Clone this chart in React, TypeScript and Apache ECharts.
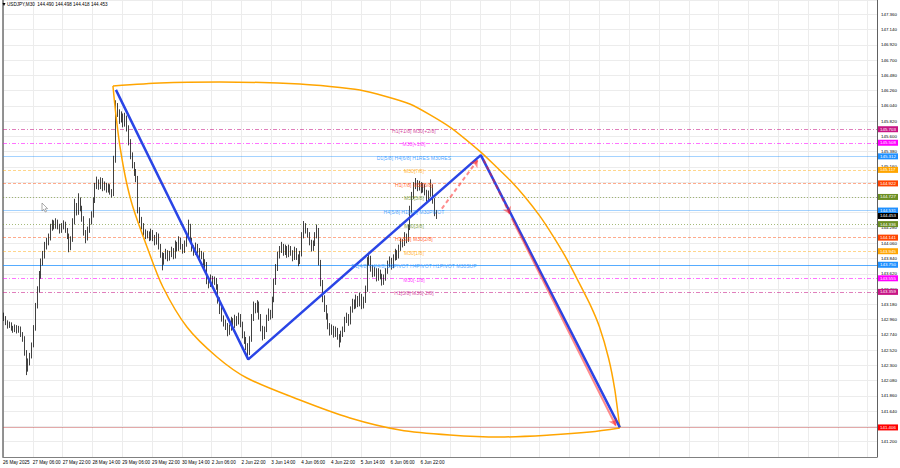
import React, { useEffect, useRef } from "react";
import * as echarts from "echarts";

const BASE = 141.055;
const TICK_STEP = 0.22;
const PRICE_MIN = 140.98;
const PRICE_MAX = 147.565;
const SLOT_MAX = 469;
const TIME_STEP = 16;
const FONT = '"Liberation Sans", Arial, sans-serif';

const titleText = "USDJPY,M30  144.490 144.498 144.418 144.453";

const timeLabels = [
  "26 May 2025", "27 May 06:00", "27 May 22:00", "28 May 14:00", "29 May 06:00",
  "29 May 22:00", "30 May 14:00", "2 Jun 06:00", "2 Jun 22:00", "3 Jun 14:00",
  "4 Jun 06:00", "4 Jun 22:00", "5 Jun 14:00", "6 Jun 06:00", "6 Jun 22:00",
];

const firstOpen = 143.02;
const closes = [
  142.98, 142.92, 142.87, 142.89, 142.84, 142.81, 142.85, 142.80, 142.83, 142.75,
  142.70, 142.49, 142.26, 142.35, 142.43, 142.59, 142.84, 143.16, 143.39, 143.60,
  143.79, 143.89, 144.02, 144.08, 144.14, 144.28, 144.34, 144.31, 144.37, 144.31,
  144.25, 144.30, 144.34, 144.25, 144.17, 144.00, 144.11, 144.37, 144.61, 144.51,
  144.68, 144.57, 144.42, 144.22, 144.14, 144.25, 144.37, 144.47, 144.68, 144.88,
  144.94, 144.88, 144.97, 144.86, 144.90, 144.83, 144.88, 144.80, 144.77, 145.26,
  146.01, 145.95, 145.84, 145.89, 145.78, 145.87, 145.72, 145.52, 145.33, 145.19,
  145.09, 145.00, 144.54, 144.40, 144.31, 144.22, 144.17, 144.19, 144.14, 144.22,
  144.14, 144.08, 144.17, 144.02, 143.90, 143.79, 143.87, 143.93, 143.85, 143.90,
  143.96, 143.87, 144.05, 143.99, 144.11, 144.02, 143.96, 144.05, 144.17, 144.31,
  144.11, 143.99, 143.93, 144.02, 143.96, 143.87, 143.90, 143.79, 143.76, 143.53,
  143.47, 143.56, 143.50, 143.53, 143.44, 143.24, 143.10, 142.98, 142.92, 142.87,
  142.78, 142.84, 142.95, 142.87, 142.98, 142.92, 143.01, 142.90, 142.75, 142.67,
  142.58, 142.49, 142.67, 142.98, 143.16, 143.10, 143.19, 143.01, 142.84, 142.72,
  142.81, 142.98, 143.07, 143.01, 143.24, 143.50, 143.70, 143.88, 143.96, 144.02,
  143.93, 143.99, 143.90, 143.99, 143.93, 143.85, 143.96, 143.87, 143.79, 143.90,
  144.17, 144.31, 144.25, 144.19, 144.08, 143.99, 144.05, 144.17, 144.25, 143.79,
  143.50, 143.27, 143.13, 143.01, 142.87, 142.78, 142.84, 142.75, 142.81, 142.72,
  142.67, 142.75, 142.81, 142.95, 143.01, 142.92, 143.10, 143.21, 143.16, 143.27,
  143.19, 143.30, 143.16, 143.24, 143.39, 143.79, 143.85, 143.70, 143.62, 143.67,
  143.56, 143.65, 143.59, 143.50, 143.56, 143.65, 143.76, 143.82, 143.73, 143.85,
  143.93, 143.87, 143.99, 144.08, 144.05, 144.17, 144.11, 144.28, 144.54, 144.74,
  144.88, 144.94, 144.86, 144.91, 144.83, 144.88, 144.80, 144.71, 144.77, 144.88,
  144.68, 144.51, 144.453,
];
const highs = [
  143.06, 143.01, 142.95, 142.93, 142.92, 142.87, 142.89, 142.88, 142.87, 142.86,
  142.78, 142.72, 142.52, 142.40, 142.48, 142.63, 142.88, 143.20, 143.44, 143.66,
  143.84, 143.95, 144.08, 144.14, 144.20, 144.34, 144.40, 144.39, 144.42, 144.40,
  144.34, 144.35, 144.39, 144.37, 144.28, 144.20, 144.16, 144.42, 144.70, 144.64,
  144.78, 144.72, 144.60, 144.45, 144.25, 144.30, 144.42, 144.52, 144.72, 144.93,
  145.02, 144.98, 145.01, 145.00, 144.95, 144.93, 144.92, 144.91, 144.84, 145.32,
  146.12, 146.08, 145.99, 145.96, 145.93, 145.94, 145.90, 145.76, 145.56, 145.37,
  145.23, 145.13, 145.03, 144.58, 144.44, 144.35, 144.26, 144.24, 144.23, 144.27,
  144.25, 144.18, 144.22, 144.20, 144.05, 143.93, 143.92, 143.98, 143.96, 143.95,
  144.01, 143.99, 144.10, 144.08, 144.16, 144.14, 144.05, 144.10, 144.22, 144.40,
  144.34, 144.14, 144.03, 144.07, 144.05, 143.99, 143.95, 143.93, 143.83, 143.79,
  143.57, 143.61, 143.59, 143.58, 143.56, 143.47, 143.28, 143.14, 143.02, 142.96,
  142.91, 142.89, 143.00, 142.98, 143.03, 143.01, 143.06, 143.04, 142.93, 142.79,
  142.71, 142.62, 142.72, 143.04, 143.22, 143.20, 143.24, 143.22, 143.04, 142.87,
  142.86, 143.03, 143.12, 143.10, 143.29, 143.55, 143.76, 143.94, 144.02, 144.08,
  144.05, 144.04, 144.02, 144.04, 144.02, 143.96, 144.01, 143.99, 143.90, 143.95,
  144.22, 144.38, 144.35, 144.28, 144.22, 144.11, 144.10, 144.22, 144.33, 144.28,
  143.82, 143.53, 143.31, 143.17, 143.05, 142.91, 142.89, 142.87, 142.86, 142.84,
  142.75, 142.80, 142.86, 143.00, 143.06, 143.04, 143.15, 143.26, 143.25, 143.32,
  143.30, 143.35, 143.33, 143.29, 143.45, 143.86, 143.91, 143.88, 143.74, 143.72,
  143.70, 143.70, 143.68, 143.62, 143.61, 143.70, 143.81, 143.87, 143.85, 143.90,
  143.98, 143.96, 144.04, 144.13, 144.12, 144.22, 144.20, 144.33, 144.60, 144.80,
  144.94, 145.00, 144.97, 144.96, 144.94, 144.93, 144.91, 144.83, 144.82, 144.98,
  144.91, 144.71, 144.54,
];
const lows = [
  142.94, 142.88, 142.83, 142.84, 142.80, 142.77, 142.78, 142.76, 142.77, 142.71,
  142.64, 142.44, 142.16, 142.21, 142.30, 142.40, 142.56, 142.80, 143.12, 143.35,
  143.55, 143.74, 143.84, 143.97, 144.03, 144.10, 144.24, 144.26, 144.27, 144.26,
  144.20, 144.21, 144.26, 144.21, 144.12, 143.93, 143.96, 144.08, 144.33, 144.46,
  144.47, 144.52, 144.37, 144.17, 144.06, 144.10, 144.21, 144.33, 144.43, 144.64,
  144.84, 144.83, 144.84, 144.81, 144.82, 144.79, 144.79, 144.76, 144.72, 144.74,
  145.22, 145.88, 145.78, 145.80, 145.73, 145.74, 145.67, 145.47, 145.27, 145.14,
  145.03, 144.94, 144.49, 144.35, 144.26, 144.17, 144.12, 144.13, 144.09, 144.10,
  144.09, 144.03, 144.04, 143.97, 143.85, 143.67, 143.75, 143.83, 143.80, 143.81,
  143.86, 143.83, 143.84, 143.94, 143.95, 143.97, 143.91, 143.92, 144.01, 144.13,
  144.06, 143.94, 143.88, 143.89, 143.91, 143.82, 143.83, 143.74, 143.70, 143.47,
  143.41, 143.43, 143.45, 143.46, 143.39, 143.19, 143.04, 142.93, 142.86, 142.81,
  142.72, 142.74, 142.80, 142.82, 142.84, 142.87, 142.89, 142.85, 142.69, 142.61,
  142.52, 142.41, 142.45, 142.64, 142.94, 143.05, 143.06, 142.96, 142.79, 142.66,
  142.68, 142.78, 142.94, 142.96, 142.98, 143.21, 143.46, 143.66, 143.84, 143.92,
  143.88, 143.89, 143.85, 143.86, 143.88, 143.80, 143.82, 143.82, 143.73, 143.76,
  143.87, 144.13, 144.20, 144.14, 144.03, 143.94, 143.95, 144.02, 144.13, 143.74,
  143.44, 143.21, 143.07, 142.96, 142.82, 142.73, 142.74, 142.70, 142.71, 142.67,
  142.56, 142.63, 142.71, 142.78, 142.91, 142.87, 142.89, 143.06, 143.11, 143.12,
  143.14, 143.15, 143.11, 143.12, 143.20, 143.36, 143.74, 143.65, 143.57, 143.58,
  143.51, 143.52, 143.54, 143.45, 143.46, 143.52, 143.62, 143.72, 143.68, 143.70,
  143.81, 143.82, 143.84, 143.95, 144.00, 144.02, 144.06, 144.08, 144.25, 144.50,
  144.70, 144.84, 144.81, 144.82, 144.78, 144.79, 144.75, 144.66, 144.67, 144.73,
  144.63, 144.45, 144.41,
];

const levelPrices = [
  145.703, 145.508, 145.312, 145.117, 144.922, 144.727, 144.531,
  144.336, 144.141, 143.945, 143.750, 143.555, 143.359,
];
const levelNames = [
  "H1[+1/8] M30[+2/8]", "M30[+1/8]", "D1[5/8] H4[6/8] H1RES M30RES", "M30[7/8]",
  "H1[7/8] M30[6/8]", "M30[5/8]", "H4[5/8] H1[6/8] M30PIVOT", "M30[3/8]",
  "H1[5/8] M30[2/8]", "M30[1/8]", "D1[4/8] H4[4/8] D1PIVOT H4PIVOT H1PIVOT M30SUP",
  "M30[-1/8]", "H1[3/8] M30[-2/8]",
];
const levelColors = [
  "#c71585", "#ff00ff", "#1e90ff", "#ffa500", "#ff4500", "#6b8e23", "#1e90ff",
  "#6b8e23", "#ff4500", "#ffa500", "#1e90ff", "#ff00ff", "#c71585",
];
const levelKinds = [
  "dashdot", "dashdot", "solid", "dash", "dash", "dot", "solid",
  "dot", "dash", "dash", "strong", "dashdot", "dashdot",
];
const levelLabelSlot = 220.5;

const lastPrice = 144.453;
const targetPrice = 141.406;

const zigzagSlots = [60.6, 131.6, 256.4, 331];
const zigzagPrices = [146.27, 142.387, 145.33, 141.406];

const arrowUpSlots = [235.5, 254.8];
const arrowUpPrices = [144.56, 145.26];
const arrowDownSlots = [258, 272];
const arrowDownPrices = [145.26, 144.48];
const arrowTargetSlots = [273, 328.9];
const arrowTargetPrices = [144.42, 141.43];

const lensTopSlots = [59.0, 84.2, 116.4, 159.3, 191.5, 218.3, 239.8, 256.4, 264, 272, 280, 288.1, 295, 301.5, 308, 315, 320, 325, 328.3, 331];
const lensTopPrices = [146.326, 146.369, 146.383, 146.354, 146.268, 146.066, 145.734, 145.374, 145.18, 144.97, 144.73, 144.45, 144.17, 143.88, 143.55, 143.18, 142.86, 142.40, 141.95, 141.398];
const lensBottomSlots = [59.0, 60.6, 62.8, 66.0, 69.7, 77.3, 85.8, 98.7, 114.8, 130.9, 159.3, 186.2, 213, 239.8, 266.6, 293.5, 314.9, 331];
const lensBottomPrices = [146.326, 145.908, 145.447, 144.971, 144.582, 144.006, 143.429, 142.853, 142.421, 142.118, 141.801, 141.542, 141.369, 141.297, 141.268, 141.297, 141.340, 141.398];

const off = (p: number) => p - BASE;
const pts = (xs: number[], ps: number[]) => xs.map((x, i) => [x, off(ps[i])]);

function lineStyleFor(kind: string, color: string) {
  if (kind === "dashdot") return { color, type: [4, 2, 1, 2], width: 1, opacity: 0.55 };
  if (kind === "dash") return { color, type: [3, 2], width: 1, opacity: 0.45 };
  if (kind === "dot") return { color, type: [1, 2], width: 1, opacity: 0.6 };
  if (kind === "strong") return { color, type: "solid", width: 1.2, opacity: 0.75 };
  return { color, type: "solid", width: 1, opacity: 0.4 };
}

export default function App() {
  const ref = useRef<HTMLDivElement>(null);

  useEffect(() => {
    if (!ref.current) return;
    const chart = echarts.init(ref.current, undefined, { renderer: "svg" });

    const candleData = closes.map((c, i) => {
      const o = i === 0 ? firstOpen : closes[i - 1];
      return [i + 0.5, off(o), off(c), off(lows[i]), off(highs[i])];
    });

    const markLines: any[] = levelPrices.map((p, i) => ({
      yAxis: off(p),
      lineStyle: lineStyleFor(levelKinds[i], levelColors[i]),
    }));
    markLines.push({ yAxis: off(targetPrice), lineStyle: { color: "#c04040", width: 1, opacity: 0.45, type: "solid" } });

    const option: any = {
      animation: false,
      backgroundColor: "#ffffff",
      grid: { left: 3, right: 23, top: 0, bottom: 11, show: false },
      xAxis: {
        type: "value",
        min: 0,
        max: SLOT_MAX,
        interval: TIME_STEP,
        axisLine: { show: true, onZero: false, lineStyle: { color: "#808080" } },
        axisTick: { show: false },
        splitLine: { show: true, lineStyle: { color: "#ececec", width: 1 } },
        axisLabel: {
          show: true,
          align: "left",
          margin: 3,
          fontSize: 4.6,
          fontFamily: FONT,
          color: "#000",
          showMaxLabel: false,
          formatter: (v: number) => {
            const k = Math.round(v / TIME_STEP);
            if (Math.abs(v - k * TIME_STEP) > 1e-6) return "";
            return timeLabels[k] ?? "";
          },
        },
      },
      yAxis: [
        {
          type: "value",
          position: "right",
          min: off(PRICE_MIN),
          max: off(PRICE_MAX),
          interval: TICK_STEP,
          axisLine: { show: true, onZero: false, lineStyle: { color: "#606060" } },
          axisTick: { show: false },
          splitLine: { show: true, lineStyle: { color: "#ececec", width: 1 } },
          axisLabel: {
            show: true,
            margin: 4,
            fontSize: 4.4,
            fontFamily: FONT,
            color: "#000",
            showMinLabel: false,
            showMaxLabel: false,
            formatter: (v: number) => (v + BASE).toFixed(3),
          },
        },
        {
          type: "value",
          position: "left",
          min: off(PRICE_MIN),
          max: off(PRICE_MAX),
          interval: TICK_STEP,
          axisLine: { show: true, onZero: false, lineStyle: { color: "#707070", width: 1.5 } },
          axisTick: { show: false },
          axisLabel: { show: false },
          splitLine: { show: false },
        },
      ],
      series: [
        {
          type: "candlestick",
          name: "USDJPY",
          data: candleData,
          encode: { x: 0, y: [1, 2, 3, 4] },
          barWidth: 1.2,
          silent: true,
          itemStyle: {
            color: "#ffffff",
            color0: "#000000",
            borderColor: "#111111",
            borderColor0: "#111111",
            borderWidth: 0.8,
          },
          z: 3,
          markLine: {
            silent: true,
            symbol: ["none", "none"],
            label: { show: false },
            animation: false,
            data: markLines,
            z: 1,
          },
        },
        {
          type: "line",
          name: "lensTop",
          data: pts(lensTopSlots, lensTopPrices),
          smooth: 0.2,
          showSymbol: false,
          silent: true,
          lineStyle: { color: "#ffa500", width: 1.5 },
          z: 4,
        },
        {
          type: "line",
          name: "lensBottom",
          data: pts(lensBottomSlots, lensBottomPrices),
          smooth: 0.3,
          showSymbol: false,
          silent: true,
          lineStyle: { color: "#ffa500", width: 1.5 },
          z: 4,
        },
        {
          type: "line",
          name: "zigzag",
          data: pts(zigzagSlots, zigzagPrices),
          showSymbol: false,
          silent: true,
          lineStyle: { color: "#2a45e6", width: 2.5 },
          z: 5,
        },
        {
          type: "lines",
          name: "arrows",
          coordinateSystem: "cartesian2d",
          symbol: ["none", "arrow"],
          symbolSize: 7,
          silent: true,
          z: 6,
          data: [
            { coords: pts(arrowUpSlots, arrowUpPrices), lineStyle: { color: "#ff1a1a", width: 2, type: [4, 3] } },
            { coords: pts(arrowDownSlots, arrowDownPrices), lineStyle: { color: "#ff1a1a", width: 2, type: [4, 3] } },
            { coords: pts(arrowTargetSlots, arrowTargetPrices), lineStyle: { color: "#ff1a1a", width: 2, type: "solid" } },
          ],
        },
        {
          type: "scatter",
          name: "levelLabels",
          symbol: "rect",
          symbolSize: 1,
          silent: true,
          itemStyle: { color: "rgba(0,0,0,0)" },
          z: 7,
          data: levelPrices.map((p, i) => ({
            value: [levelLabelSlot, off(p)],
            name: levelNames[i],
            label: { color: levelColors[i] },
          })),
          label: {
            show: true,
            position: "inside",
            offset: [0, 1.5],
            formatter: "{b}",
            fontSize: 5.1,
            fontFamily: FONT,
          },
        },
      ],
    };

    chart.setOption(option);

    const toY = (p: number) => chart.convertToPixel({ xAxisIndex: 0, yAxisIndex: 0 }, [0, off(p)])[1];
    const boxes: any[] = [];
    const addBox = (p: number, color: string) => {
      const y = toY(p);
      boxes.push({
        type: "rect",
        shape: { x: 878, y: y - 3, width: 20, height: 6 },
        style: { fill: color },
        z: 100,
        silent: true,
      });
      boxes.push({
        type: "text",
        x: 880,
        y: y,
        style: {
          text: p.toFixed(3),
          fill: "#ffffff",
          fontSize: 4.4,
          fontFamily: FONT,
          align: "left",
          verticalAlign: "middle",
          textAlign: "left",
          textVerticalAlign: "middle",
        },
        z: 101,
        silent: true,
      });
    };
    levelPrices.forEach((p, i) => addBox(p, levelColors[i]));
    addBox(lastPrice, "#000000");
    addBox(targetPrice, "#ff0000");

    const graphics: any[] = [
      ...boxes,
      {
        type: "polygon",
        shape: { points: [[2.5, 3], [5.5, 3], [4, 6]] },
        style: { fill: "#000" },
        z: 100,
        silent: true,
      },
      {
        type: "text",
        x: 7,
        y: 4.6,
        style: {
          text: titleText,
          fill: "#000",
          fontSize: 4.6,
          fontFamily: FONT,
          align: "left",
          verticalAlign: "middle",
          textAlign: "left",
          textVerticalAlign: "middle",
        },
        z: 100,
        silent: true,
      },
      {
        type: "polygon",
        shape: { points: [[42, 203], [42, 211], [43.8, 209.3], [45.2, 212], [46.5, 211.4], [45.2, 208.8], [47.6, 208.6]] },
        style: { fill: "#ffffff", stroke: "#777", lineWidth: 0.6 },
        z: 100,
        silent: true,
      },
    ];
    chart.setOption({ graphic: graphics });

    return () => chart.dispose();
  }, []);

  return <div ref={ref} style={{ position: "fixed", left: 0, top: 0, width: 900, height: 468 }} />;
}
